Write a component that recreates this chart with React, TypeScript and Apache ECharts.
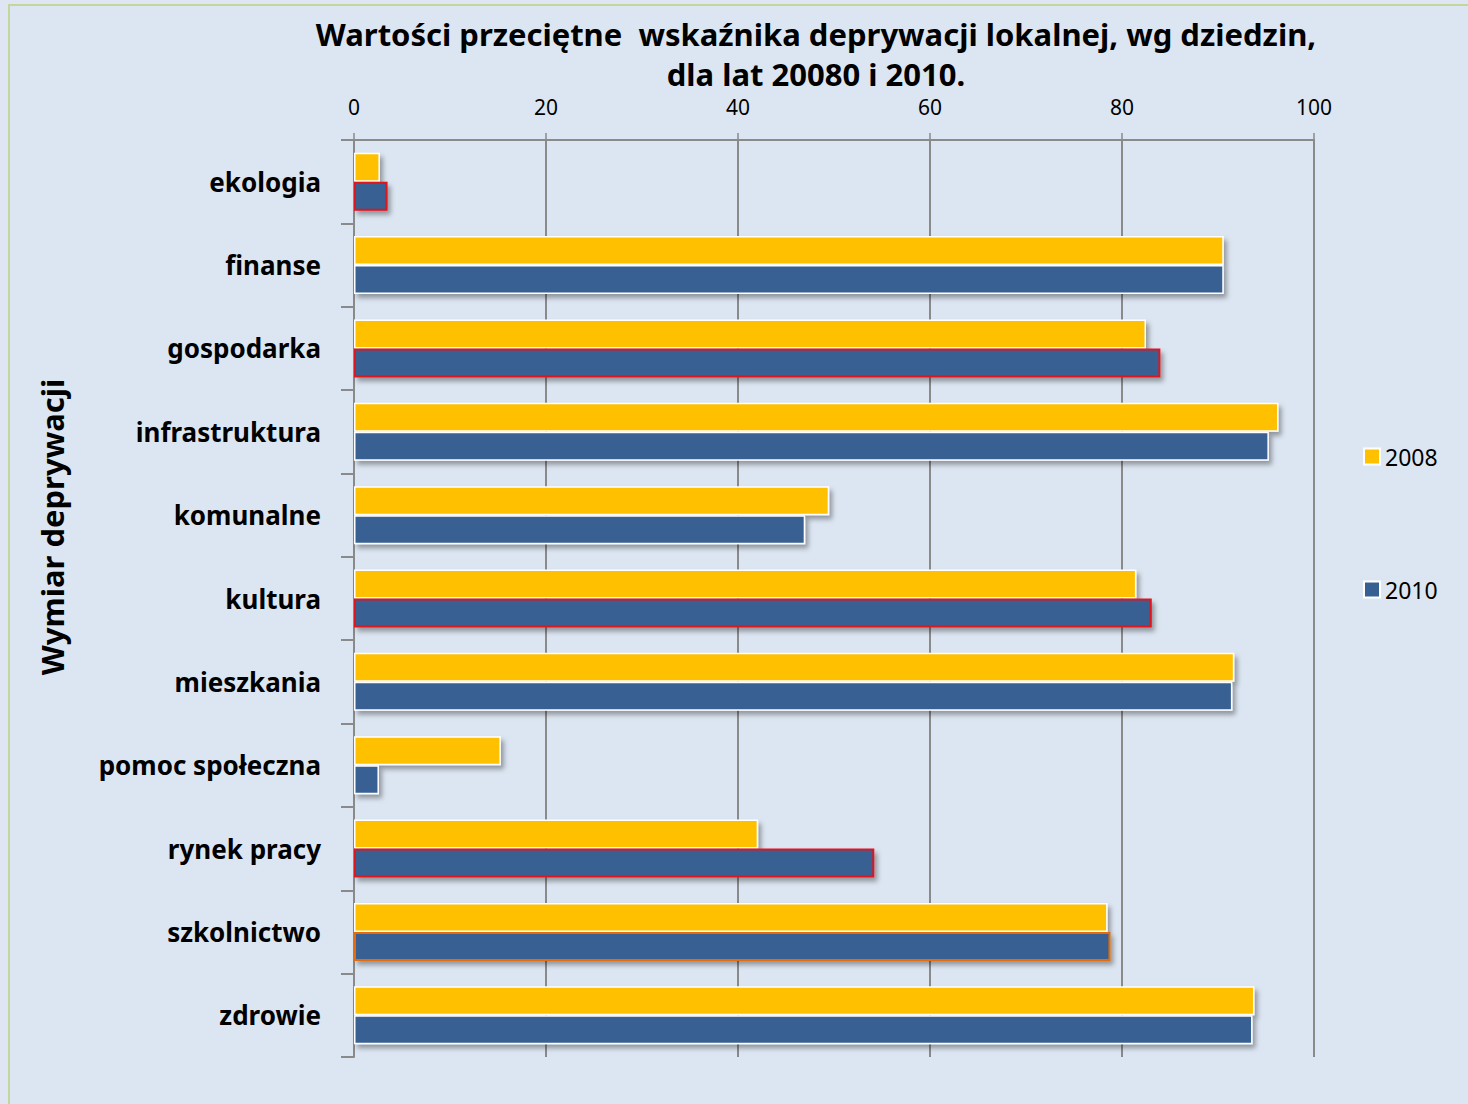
import React, { useEffect, useRef } from "react";
import * as echarts from "echarts";

const categories = [
  "ekologia",
  "finanse",
  "gospodarka",
  "infrastruktura",
  "komunalne",
  "kultura",
  "mieszkania",
  "pomoc społeczna",
  "rynek pracy",
  "szkolnictwo",
  "zdrowie",
];
const values2008 = [2.7, 90.6, 82.5, 96.3, 49.5, 81.5, 91.7, 15.3, 42.1, 78.5, 93.8];
const values2010 = [3.5, 90.6, 84.0, 95.3, 47.0, 83.1, 91.5, 2.6, 54.2, 78.8, 93.6];
// border colour of each 2010 bar (highlighted ones in red / orange)
const border2010 = ["#e0141e", "#ffffff", "#e0141e", "#ffffff", "#ffffff", "#e0141e", "#ffffff", "#ffffff", "#e0141e", "#e46c0a", "#ffffff"];
const xTicks = { min: 0, max: 100, interval: 20 };

const titleLines = [
  "Wartości przeciętne  wskaźnika deprywacji lokalnej, wg dziedzin,",
  "dla lat 20080 i 2010.",
];
const yAxisTitle = "Wymiar deprywacji";

export default function App() {
  const ref = useRef<HTMLDivElement>(null);
  useEffect(() => {
    document.body.style.margin = "0";
    const chart = echarts.init(ref.current!, null, { renderer: "svg" });
    const shadow = {
      shadowBlur: 5,
      shadowOffsetX: 3,
      shadowOffsetY: 4,
      shadowColor: "rgba(0,0,0,0.35)",
    };
    const font = "'Noto Sans', sans-serif";
    chart.setOption({
      animation: false,
      backgroundColor: "#dfe5f3",
      textStyle: { fontFamily: font },
      graphic: [
        {
          type: "rect",
          shape: { x: 9, y: 5, width: 1500, height: 1200 },
          style: { fill: "#dce6f2", stroke: "#c3d69b", lineWidth: 2 },
          z: -10,
          silent: true,
        },
        {
          type: "text",
          x: 52,
          y: 527,
          rotation: Math.PI / 2,
          style: {
            text: yAxisTitle,
            font: "bold 31px 'Noto Sans', sans-serif",
            fill: "#000",
            align: "center",
            verticalAlign: "middle",
          },
          silent: true,
        },
      ],
      title: {
        text: titleLines.join("\n"),
        left: 811,
        textAlign: "center",
        top: 9,
        textStyle: {
          fontFamily: font,
          fontWeight: "bold",
          fontSize: 31,
          lineHeight: 40,
          color: "#000",
        },
      },
      legend: {
        orient: "vertical",
        left: 1358,
        top: 440,
        itemWidth: 16,
        itemHeight: 16,
        itemGap: 110,
        icon: "rect",
        textStyle: { fontFamily: font, fontSize: 23, color: "#000" },
        data: ["2008", "2010"],
      },
      grid: { left: 354, top: 140, right: 154, bottom: 47, containLabel: false },
      xAxis: {
        type: "value",
        position: "top",
        min: xTicks.min,
        max: xTicks.max,
        interval: xTicks.interval,
        axisLine: { show: true, lineStyle: { color: "#8a8a8a", width: 2 } },
        axisTick: { show: true, length: 7, lineStyle: { color: "#8a8a8a", width: 1.5 } },
        axisLabel: { fontSize: 21, color: "#000", margin: 23, fontFamily: font },
        splitLine: { show: true, lineStyle: { color: "#8a8a8a", width: 2 } },
      },
      yAxis: {
        type: "category",
        inverse: true,
        data: categories,
        axisLine: { show: true, lineStyle: { color: "#8a8a8a", width: 2 } },
        axisTick: { show: true, length: 13, lineStyle: { color: "#8a8a8a", width: 2 } },
        axisLabel: { fontSize: 26, fontWeight: "bold", color: "#000", margin: 33, fontFamily: font },
      },
      series: [
        {
          name: "2008",
          type: "bar",
          data: values2008,
          barWidth: 29,
          barGap: "0%",
          itemStyle: { color: "#ffc000", borderColor: "#ffffff", borderWidth: 1.5, ...shadow },
        },
        {
          name: "2010",
          type: "bar",
          data: values2010.map((v, i) => ({
            value: v,
            itemStyle: {
              borderColor: border2010[i],
              borderWidth: border2010[i] === "#ffffff" ? 1.5 : 2,
            },
          })),
          barWidth: 29,
          barGap: "0%",
          itemStyle: { color: "#376092", borderColor: "#ffffff", borderWidth: 1.5, ...shadow },
        },
      ],
    });
    return () => chart.dispose();
  }, []);
  return <div ref={ref} style={{ width: 1468, height: 1104 }} />;
}
